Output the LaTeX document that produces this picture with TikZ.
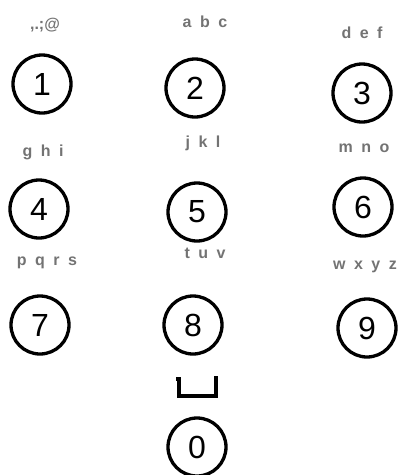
\documentclass[tikz,border=0pt]{standalone}
\usepackage{fontspec}
\newfontfamily\arialfont{Liberation Sans}
\newcommand\keyfont{\arialfont\fontsize{32}{32}\selectfont}
\newcommand\letterfont{\arialfont\bfseries\fontsize{16}{16}\selectfont\spaceskip=8.5pt plus 0pt minus 0pt\relax}
\usetikzlibrary{positioning}

\begin{document}
\begin{tikzpicture}[
        x=1pt, y=-1pt,
        key/.style={draw, circle, line width=3.3pt, minimum size=58pt, inner sep=0pt, font=\keyfont},
        letters/.style={text=black!55, inner sep=0pt, font=\letterfont},
        spacebar/.style={line width=3.3pt, line join=miter}
    ]
    \useasboundingbox (0,0) rectangle (398,475);
    % keys
    \node[key] (k1) at (42,84) {1};
    \node[key] (k2) at (195,88) {2};
    \node[key] (k3) at (362,93) {3};
    \node[key] (k4) at (39,209) {4};
    \node[key] (k5) at (197,212) {5};
    \node[key] (k6) at (363,207) {6};
    \node[key] (k7) at (40,325) {7};
    \node[key] (k8) at (193,325) {8};
    \node[key] (k9) at (367,328) {9};
    \node[key] (k0) at (197,447) {0};
    % letters
    \node[letters] (l1) at (45,25) {,.;@};
    \node[letters] (l2) at (205,22) {a b c};
    \node[letters] (l3) at (362,33) {d e f};
    \node[letters] (l4) at (43,152) {g h i};
    \node[letters] (l5) at (203,143) {j k l};
    \node[letters] (l6) at (364,148) {m n o};
    \node[letters] (l7) at (47,263) {p q r s};
    \node[letters] (l8) at (205,253) {t u v};
    \node[letters] (l9) at (365,267) {w x y z};
    % space sign
    \draw[spacebar] (176,379) -- (179,379) -- (179,396) -- (216,396) -- (216,376);
\end{tikzpicture}
\end{document}
